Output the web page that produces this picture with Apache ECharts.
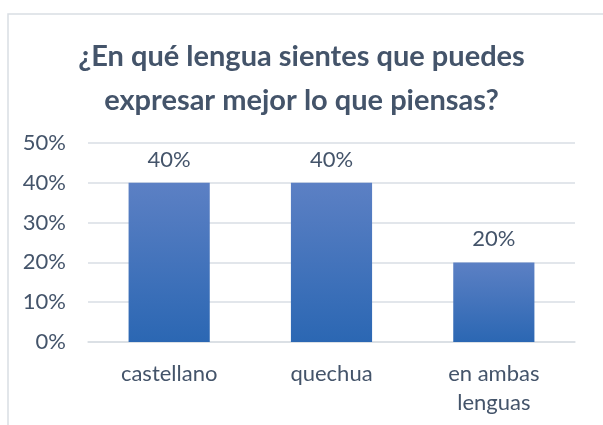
<!DOCTYPE html>
<html>
<head>
<meta charset="utf-8">
<script src="https://cdn.jsdelivr.net/npm/echarts@6/dist/echarts.min.js"></script>
<style>
  html, body { margin: 0; padding: 0; background: #fff; }
  #chart { width: 603px; height: 425px; }
</style>
</head>
<body>
<div id="chart"></div>
<script>
var titleText = '¿En qué lengua sientes que puedes\nexpresar mejor lo que piensas?'
var categories = ['castellano', 'quechua', 'en ambas\nlenguas']
var values = [0.4, 0.4, 0.2]
var yTicks = [0, 0.1, 0.2, 0.3, 0.4, 0.5]

var textColor = '#44546A'
var font = 'Lato'

function pct(v) {
    return Math.round(v * 100) + '%'
}

var myChart = echarts.init(document.getElementById('chart'))

var option = {
    backgroundColor: '#fff',
    animation: false,
    // chart frame
    graphic: [{
        type: 'rect',
        shape: { x: 8, y: 14, width: 640, height: 460 },
        style: { fill: 'none', stroke: '#D9DEE4', lineWidth: 1.5 },
        silent: true
    }],
    title: {
        text: titleText,
        left: 'center',
        top: 35,
        padding: [0, 0, 0, 26],
        textStyle: {
            fontFamily: font,
            fontWeight: 'bold',
            fontSize: 29,
            lineHeight: 44,
            color: textColor
        }
    },
    grid: {
        left: 88,
        right: 28,
        top: 143,
        bottom: 83
    },
    xAxis: {
        type: 'category',
        data: categories,
        axisLine: { show: true, lineStyle: { color: '#D9DEE4', width: 1.5 } },
        axisTick: { show: false },
        axisLabel: {
            fontFamily: font,
            fontSize: 22,
            lineHeight: 29,
            color: textColor,
            margin: 17
        }
    },
    yAxis: {
        type: 'value',
        min: yTicks[0],
        max: yTicks[yTicks.length - 1],
        interval: 0.1,
        axisLine: { show: false },
        axisTick: { show: false },
        splitLine: { lineStyle: { color: '#D9DEE4', width: 1.5 } },
        axisLabel: {
            fontFamily: font,
            fontSize: 22,
            color: textColor,
            margin: 22,
            formatter: pct
        }
    },
    series: [{
        type: 'bar',
        data: values,
        barWidth: '50%',
        itemStyle: {
            color: new echarts.graphic.LinearGradient(0, 0, 0, 1, [
                { offset: 0, color: '#5C80C4' },
                { offset: 1, color: '#2B67B3' }
            ])
        },
        label: {
            show: true,
            position: 'top',
            distance: 12,
            fontFamily: font,
            fontSize: 22,
            color: textColor,
            formatter: function (p) { return pct(p.value) }
        }
    }]
}

myChart.setOption(option)
</script>
</body>
</html>
